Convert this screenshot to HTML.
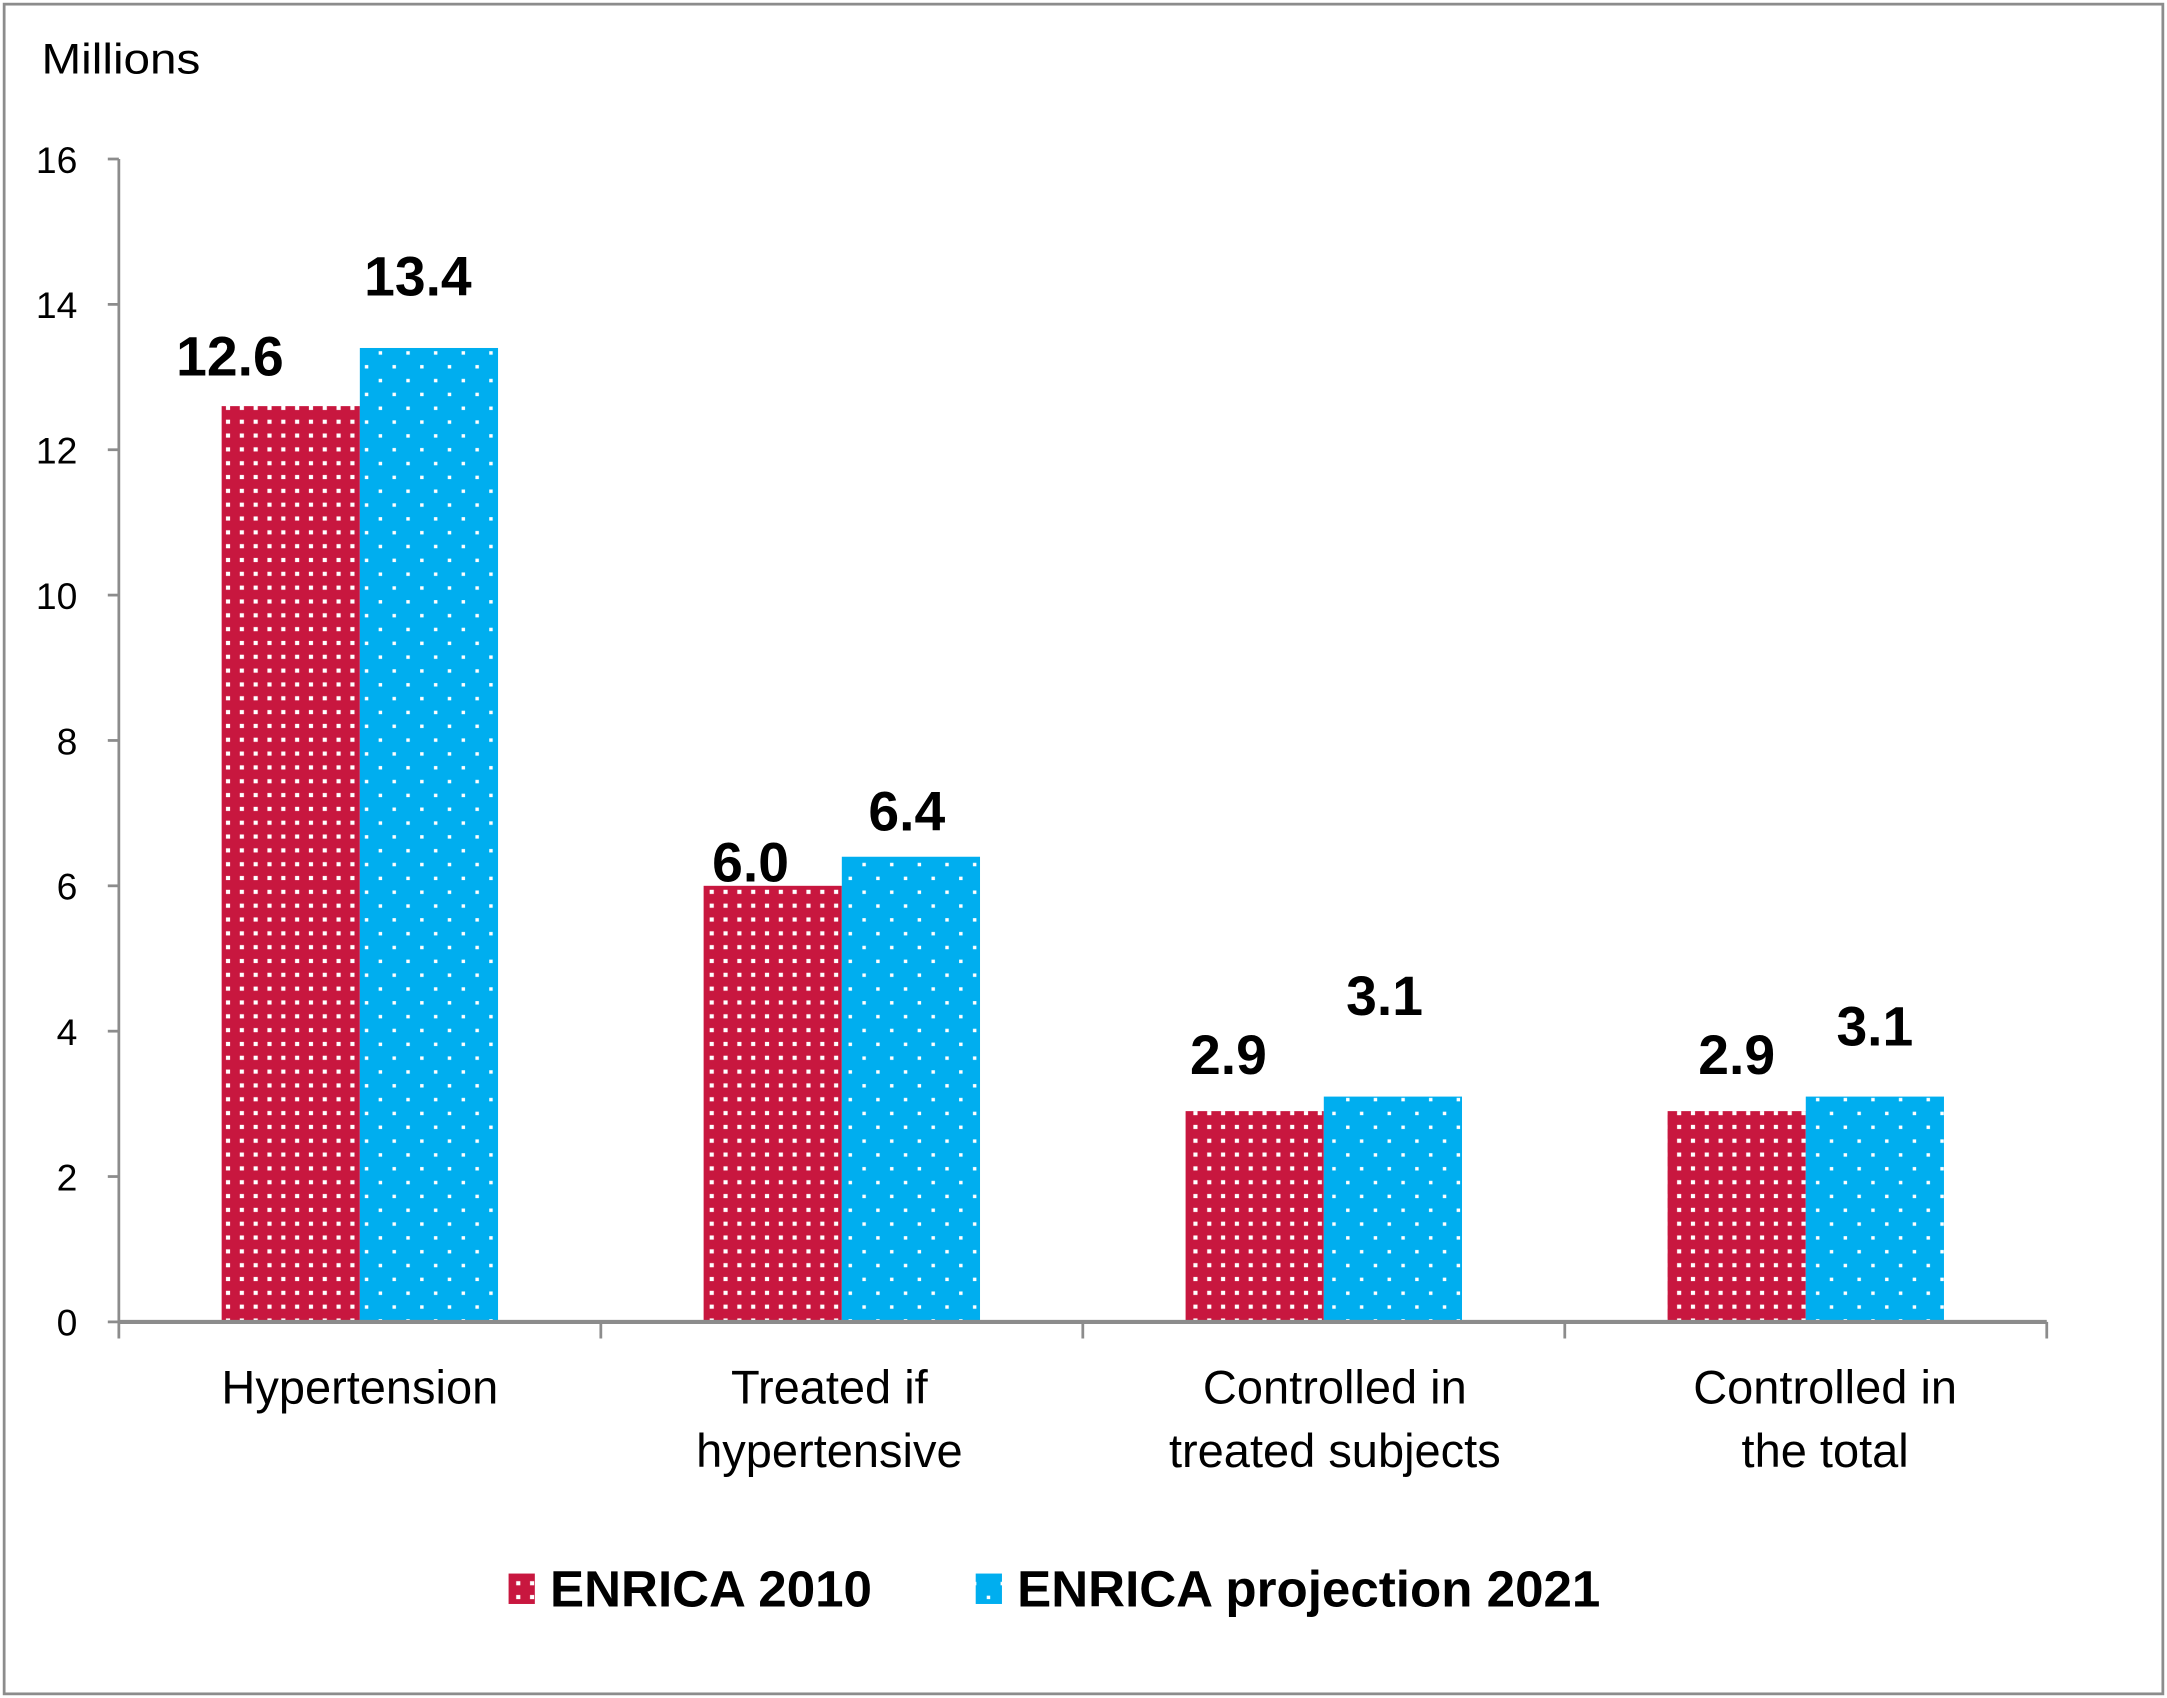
<!DOCTYPE html>
<html><head><meta charset="utf-8"><style>
html,body{margin:0;padding:0;background:#fff}
svg{display:block}
text{font-family:"Liberation Sans",sans-serif}
</style></head><body>
<svg id="chart" width="2167" height="1698" viewBox="0 0 1568 1228" preserveAspectRatio="none" xmlns="http://www.w3.org/2000/svg">
<defs>
<pattern id="pRed" width="10" height="10" patternUnits="userSpaceOnUse">
<rect width="10" height="10" fill="#C8173F"/><rect x="3.5" y="3.5" width="3" height="3" fill="#fff"/>
</pattern>
<pattern id="pBlue" width="20" height="20" patternUnits="userSpaceOnUse">
<rect width="20" height="20" fill="#00AEEF"/><rect x="4" y="4" width="2.5" height="2.5" fill="#fff"/><rect x="14" y="14" width="2.5" height="2.5" fill="#fff"/>
</pattern>
</defs>
<rect x="3" y="3" width="1562" height="1222" fill="#fff" stroke="#8c8c8c" stroke-width="2"/>
<text x="30" y="53" font-size="31" textLength="115" lengthAdjust="spacingAndGlyphs">Millions</text>
<g id="plot"></g>
</svg>
<script>
const categories = [["Hypertension"], ["Treated if", "hypertensive"], ["Controlled in", "treated subjects"], ["Controlled in", "the total"]];
const series2010 = [12.6, 6.0, 2.9, 2.9];
const series2021 = [13.4, 6.4, 3.1, 3.1];
const yTicks = [0, 2, 4, 6, 8, 10, 12, 14, 16];
const seriesNames = ["ENRICA 2010", "ENRICA projection 2021"];

const NS = "http://www.w3.org/2000/svg";
const g = document.getElementById("plot");
const x0 = 86, x1 = 1481, yBase = 956, yTop = 115, yMax = 16;
const yScale = v => yBase - (v / yMax) * (yBase - yTop);
const catW = (x1 - x0) / categories.length;
const catCenter = i => x0 + catW * (i + 0.5);
const barW = 100;
const labelGap = [[22, 38], [3, 19], [27, 59], [27, 37]];
const labelDx = [[-44, -8], [-16, -3], [-19, -6], [0, 0]];
const catDx = [0, -9, 8, 14];

function mk(tag, attrs) {
  const e = document.createElementNS(NS, tag);
  for (const k in attrs) e.setAttribute(k, attrs[k]);
  g.appendChild(e);
  return e;
}

let ax = mk("line", {x1: x0, y1: yTop, x2: x0, y2: yBase, stroke: "#8c8c8c", "stroke-width": 2});


yTicks.forEach(t => {
  const y = yScale(t);
  const tk = mk("line", {x1: x0 - 8, y1: y, x2: x0, y2: y, stroke: "#8c8c8c", "stroke-width": 2});
  
  
  const tl = mk("text", {x: 56, y: y + 10, "text-anchor": "end", "font-size": 27});
  tl.textContent = t;
  
  
});

categories.forEach((c, i) => {
  const cx = catCenter(i);
  [[series2010, "url(#pRed)", cx - barW, 0], [series2021, "url(#pBlue)", cx, 1]].forEach(([s, fill, bx, si]) => {
    const y = yScale(s[i]);
    const r = mk("rect", {x: bx, y: y, width: barW, height: yBase - y, fill: fill});
    
    
    const vl = mk("text", {x: bx + barW / 2 + labelDx[i][si], y: y - labelGap[i][si], "text-anchor": "middle", "font-size": 40, "font-weight": "bold"});
    vl.textContent = s[i].toFixed(1);
    
    
  });
});

let xa = mk("line", {x1: x0, y1: yBase, x2: x1, y2: yBase, stroke: "#8c8c8c", "stroke-width": 3});


for (let i = 0; i <= categories.length; i++) {
  const x = x0 + catW * i;
  const tk = mk("line", {x1: x, y1: yBase, x2: x, y2: yBase + 12, stroke: "#8c8c8c", "stroke-width": 2});
  
  
}
categories.forEach((c, i) => {
  c.forEach((line, j) => {
    const t = mk("text", {x: catCenter(i) + catDx[i], y: 1015 + j * 46, "text-anchor": "middle", "font-size": 34});
    t.textContent = line;
    
    
  });
});

const legX = [368, 706];
const legFill = ["url(#pRed)", "url(#pBlue)"];
seriesNames.forEach((n, i) => {
  const sw = mk("rect", {x: legX[i], y: 1138, width: 19, height: 22, fill: legFill[i]});
  
  
  const t = mk("text", {x: legX[i] + 30, y: 1162, "font-size": 37, "font-weight": "bold"});
  t.textContent = n;
  
  
});
</script>
</body></html>
